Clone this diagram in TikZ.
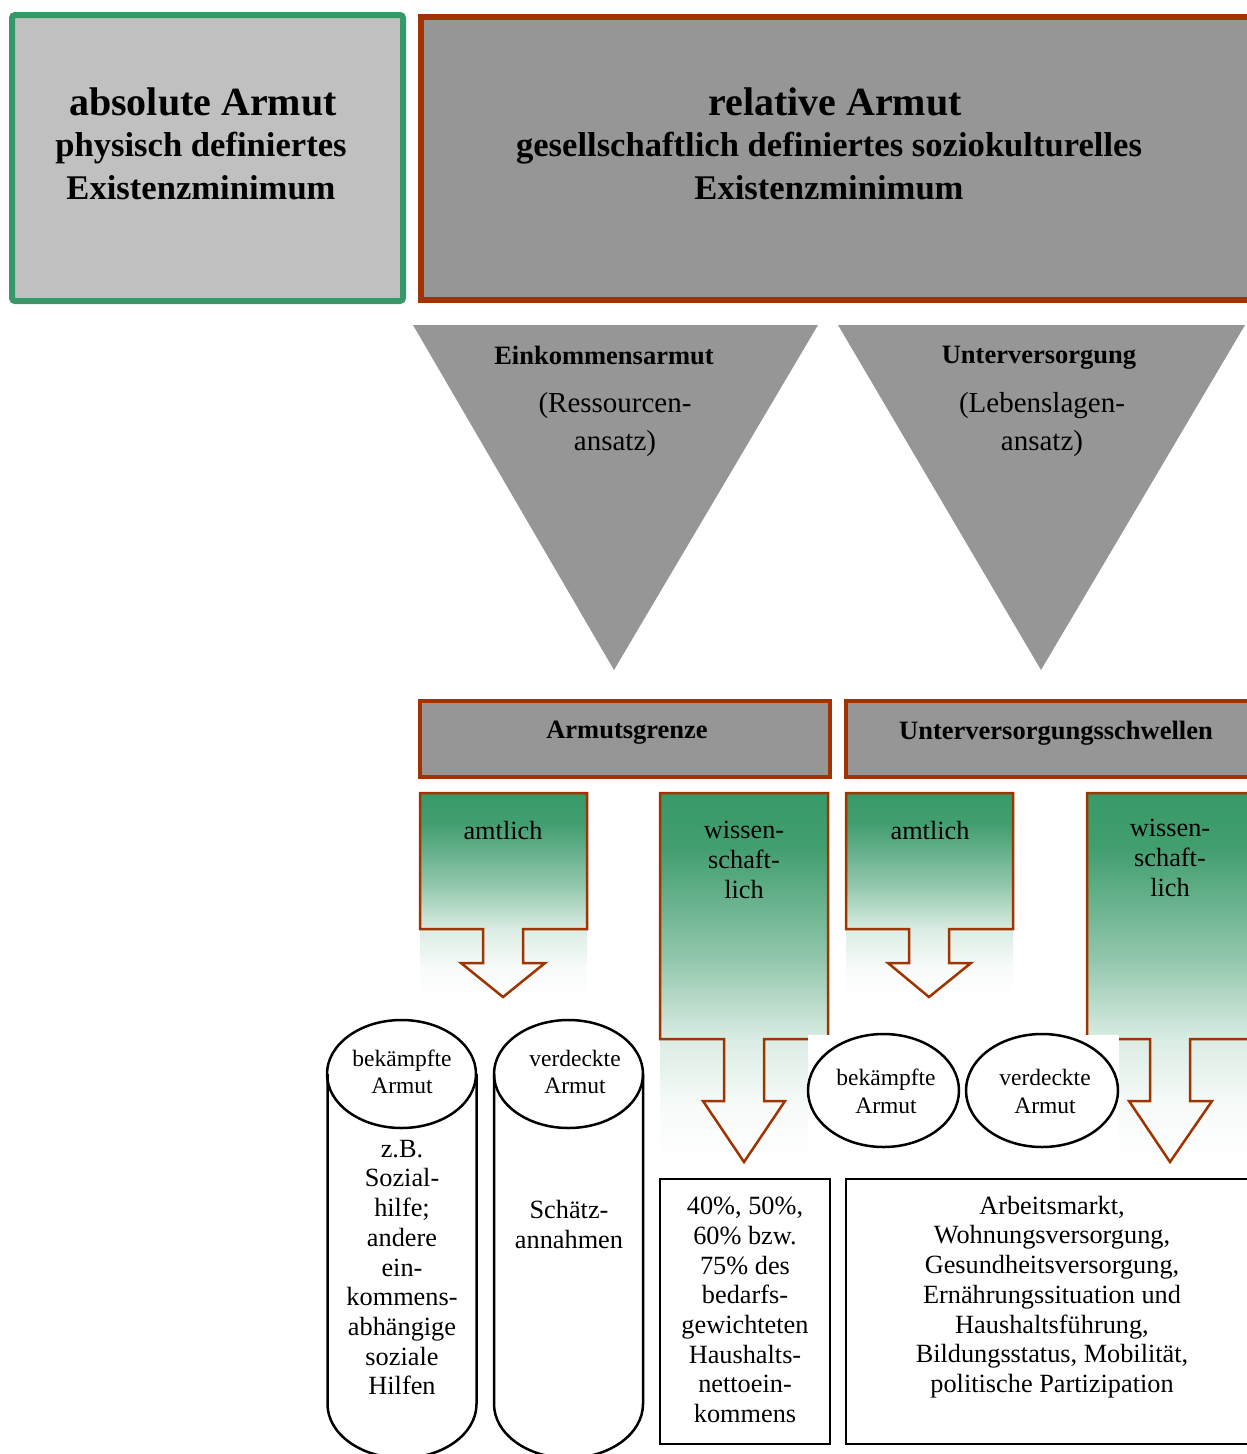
\documentclass[tikz,border=0pt]{standalone}
\usepackage{fontspec}
\setmainfont{Liberation Serif}
\definecolor{grn}{RGB}{56,153,104}
\definecolor{brn}{RGB}{160,52,0}
\definecolor{lgray}{RGB}{192,192,192}
\definecolor{mgray}{RGB}{150,150,150}
\colorlet{gA}{grn!4!white}
\colorlet{gB}{grn!18!white}
\colorlet{gC}{grn!55!white}
\colorlet{gD}{grn!95!white}
\pgfdeclareverticalshading{gfade}{100bp}{color(0bp)=(white); color(25bp)=(white); color(32.5bp)=(gA); color(41.5bp)=(gB); color(52.5bp)=(gC); color(67.5bp)=(gD); color(75bp)=(grn); color(100bp)=(grn)}
\tikzset{
  titlef/.style={font=\bfseries\fontsize{40}{46}\selectfont, align=center, inner sep=0pt},
  subf/.style={font=\bfseries\fontsize{34.6}{43}\selectfont, align=center, inner sep=0pt},
  headf/.style={font=\bfseries\fontsize{26.5}{30}\selectfont, align=center, inner sep=0pt},
  trif/.style={font=\fontsize{29}{38}\selectfont, align=center, inner sep=0pt},
  bodyf/.style={font=\fontsize{26.3}{29.7}\selectfont, align=center, inner sep=0pt},
  smallf/.style={font=\fontsize{23.5}{27.5}\selectfont, align=center, inner sep=0pt},
  callout/.style={draw=brn, line width=2.5pt, line join=miter},
  blk/.style={draw=black, line width=2.5pt},
}
\begin{document}
\begin{tikzpicture}[x=1pt, y=-1pt]
\useasboundingbox (0,0) rectangle (1247,1454);
\clip (0,0) rectangle (1247,1454);
% top boxes
\draw[draw=grn, fill=lgray, line width=6pt, rounded corners=3pt] (12,15) rectangle (403,301);
\draw[draw=brn, fill=mgray, line width=6pt] (421,17) rectangle (1262,300);
\node[titlef] (absT) at (203,102) {absolute Armut};
\node[subf] (absS) at (201,166.5) {physisch definiertes\\Existenzminimum};
\node[titlef] (relT) at (835,102) {relative Armut};
\node[subf] (relS) at (829,166.5) {gesellschaftlich definiertes soziokulturelles\\Existenzminimum};
% triangles
\fill[mgray] (413,325) -- (818,325) -- (614,670) -- cycle;
\fill[mgray] (838,325) -- (1245,325) -- (1041,670) -- cycle;
\node[headf] (einkT) at (604,355) {Einkommensarmut};
\node[trif] (einkS) at (615,425) {(Ressourcen-\\ansatz)};
\node[headf] (untT) at (1039,358) {Unterversorgung};
\node[trif] (untS) at (1042,425) {(Lebenslagen-\\ansatz)};
% header boxes
\draw[draw=brn, fill=mgray, line width=3.5pt] (420,701) rectangle (830,777);
\draw[draw=brn, fill=mgray, line width=3.5pt] (846,701) rectangle (1262,777);
\node[headf] (agT) at (627,733) {Armutsgrenze};
\node[headf] (usT) at (1056,733) {Unterversorgungsschwellen};
% callouts: shaded backgrounds
\shade[shading=gfade] (420,793) rectangle (587,997);
\shade[shading=gfade] (660,793) rectangle (828,1162);
\shade[shading=gfade] (846,793) rectangle (1013,997);
\shade[shading=gfade] (1087,793) rectangle (1255,1162);
% callout outlines
\draw[callout] (420,793) -- (587,793) -- (587,929) -- (523,929) -- (523,963) -- (545,963) -- (503,997) -- (461,963) -- (483,963) -- (483,929) -- (420,929) -- cycle;
\draw[callout] (660,793) -- (828,793) -- (828,1039) -- (764,1039) -- (764,1101) -- (785,1101) -- (744,1162) -- (703,1101) -- (724,1101) -- (724,1039) -- (660,1039) -- cycle;
\draw[callout] (846,793) -- (1013,793) -- (1013,929) -- (949,929) -- (949,963) -- (971,963) -- (929,997) -- (888,963) -- (909,963) -- (909,929) -- (846,929) -- cycle;
\draw[callout] (1087,793) -- (1255,793) -- (1255,1039) -- (1190,1039) -- (1190,1101) -- (1212,1101) -- (1170,1162) -- (1129,1101) -- (1150,1101) -- (1150,1039) -- (1087,1039) -- cycle;
\node[bodyf] (am1) at (503,830) {amtlich};
\node[bodyf] (ws1) at (744,860) {wissen-\\schaft-\\lich};
\node[bodyf] (am2) at (930,830) {amtlich};
\node[bodyf] (ws2) at (1170,858) {wissen-\\schaft-\\lich};
% white panel behind ellipses
\fill[white] (808,1035) rectangle (1119,1148);
\draw[blk] (883.5,1090.5) ellipse [x radius=75.5pt, y radius=56.5pt];
\draw[blk] (1042,1090.5) ellipse [x radius=76pt, y radius=56.5pt];
\node[smallf] (ebA) at (886,1091.5) {bekämpfte\\Armut};
\node[smallf] (evA) at (1045,1091.5) {verdeckte\\Armut};
% cylinders
\draw[blk] (327.5,1074) -- (327.5,1404) arc[start angle=180, end angle=360, x radius=74.5pt, y radius=54pt] -- (476.5,1074);
\draw[blk] (401.5,1074) ellipse [x radius=74.5pt, y radius=54pt];
\draw[blk] (494,1074) -- (494,1404) arc[start angle=180, end angle=360, x radius=74.5pt, y radius=54pt] -- (643,1074);
\draw[blk] (568.5,1074) ellipse [x radius=74.5pt, y radius=54pt];
\node[smallf] (cbA) at (402,1072) {bekämpfte\\Armut};
\node[smallf] (cvA) at (575,1072) {verdeckte\\Armut};
\node[bodyf] (cbB) at (402,1267.5) {z.B.\\Sozial-\\hilfe;\\andere\\ein-\\kommens-\\abhängige\\soziale\\Hilfen};
\node[bodyf] (cvB) at (569,1224.5) {Schätz-\\annahmen};
% bottom boxes
\draw[blk] (660,1179) rectangle (830,1444);
\draw[blk] (846,1179) rectangle (1262,1444);
\node[bodyf] (pct) at (745,1310) {40\%, 50\%,\\60\% bzw.\\75\% des\\bedarfs-\\gewichteten\\Haushalts-\\nettoein-\\kommens};
\node[bodyf] (lst) at (1052,1297) {Arbeitsmarkt,\\Wohnungsversorgung,\\Gesundheitsversorgung,\\Ernährungssituation und\\Haushaltsführung,\\Bildungsstatus, Mobilität,\\politische Partizipation};
\end{tikzpicture}
\end{document}
